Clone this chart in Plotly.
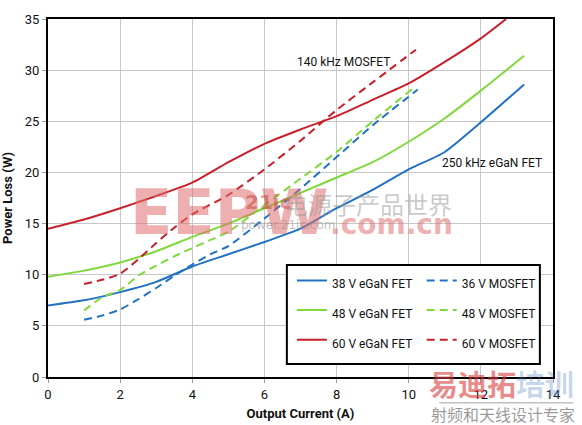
import plotly.graph_objects as go

# 38 V eGaN FET (solid blue) / 36 V MOSFET (dashed blue)
x_38_egan = [0, 1, 2, 3, 4, 5, 6, 7, 8, 9, 10, 11, 12, 13.2]
y_38_egan = [7.0, 7.5, 8.3, 9.3, 10.8, 12.0, 13.2, 14.5, 16.5, 18.3, 20.3, 22.0, 24.9, 28.6]
x_36_mos = [1, 1.5, 2, 2.5, 3, 3.5, 4, 4.5, 5, 6, 7, 8, 9, 10.25]
y_36_mos = [5.6, 6.0, 6.6, 7.6, 8.7, 9.9, 11.0, 12.0, 12.8, 15.5, 18.4, 21.5, 24.6, 28.1]

# 48 V
x_48_egan = [0, 1, 2, 3, 4, 5, 6, 7, 8, 9, 10, 11, 12, 13.2]
y_48_egan = [9.8, 10.4, 11.2, 12.3, 13.7, 15.0, 16.5, 18.0, 19.5, 21.0, 23.0, 25.3, 28.0, 31.4]
x_48_mos = [1, 1.5, 2, 2.5, 3, 3.5, 4, 4.5, 5, 6, 7, 8, 9, 10.15]
y_48_mos = [6.5, 7.8, 8.5, 9.9, 10.9, 11.8, 12.6, 13.4, 14.2, 16.8, 19.4, 22.0, 25.0, 28.3]

# 60 V
x_60_egan = [0, 1, 2, 3, 4, 5, 6, 7, 8, 9, 10, 11, 12, 12.7]
y_60_egan = [14.5, 15.4, 16.5, 17.7, 19.0, 21.0, 22.8, 24.2, 25.5, 27.1, 28.7, 30.8, 33.1, 35.0]
x_60_mos = [1, 1.5, 2, 2.5, 3, 3.5, 4, 5, 6, 7, 8, 9, 10.2]
y_60_mos = [9.1, 9.5, 10.1, 11.5, 13.1, 14.6, 15.9, 17.8, 20.3, 23.1, 26.1, 28.8, 32.0]

x_ticks = [0, 2, 4, 6, 8, 10, 12, 14]
y_ticks = [0, 5, 10, 15, 20, 25, 30, 35]

BLUE = '#2272c3'
GREEN = '#80d83c'
RED = '#c8202a'
FONT = 'Roboto, sans-serif'
CJK = 'Noto Sans CJK SC'

# (name, x, y, colour, dash, legend column)
series = [
    ('38 V eGaN FET', x_38_egan, y_38_egan, BLUE, 'solid', 'legend'),
    ('36 V MOSFET', x_36_mos, y_36_mos, BLUE, '8px,5px', 'legend2'),
    ('48 V eGaN FET', x_48_egan, y_48_egan, GREEN, 'solid', 'legend'),
    ('48 V MOSFET', x_48_mos, y_48_mos, GREEN, '8px,5px', 'legend2'),
    ('60 V eGaN FET', x_60_egan, y_60_egan, RED, 'solid', 'legend'),
    ('60 V MOSFET', x_60_mos, y_60_mos, RED, '8px,5px', 'legend2'),
]

fig = go.Figure()

# watermarks
wm = [
    (0.36, 0.46, '<b>EEPW</b>', 62, 'rgba(222,110,110,0.55)', 'DejaVu Sans, sans-serif'),
    (0.436, 0.489, '<b>21ic</b>', 20, 'rgba(200,70,60,0.55)', 'DejaVu Sans, sans-serif'),
    (0.634, 0.486, '电源子产品世界', 24, 'rgba(150,150,150,0.5)', CJK),
    (0.475, 0.425, 'power.21ic.com', 12, 'rgba(150,150,150,0.6)', 'DejaVu Sans, sans-serif'),
    (0.68, 0.425, '<b>.com.cn</b>', 28, 'rgba(222,110,110,0.55)', 'DejaVu Sans, sans-serif'),
    (0.899, -0.017, '<b>易迪拓</b><b style="color:rgba(80,125,195,0.55)">培训</b>', 29, 'rgba(215,60,60,0.6)', CJK),
    (0.90, -0.103, '射频和天线设计专家', 16, 'rgba(120,120,120,0.75)', CJK),
]
for x, y, t, s, c, f in wm:
    fig.add_annotation(x=x, y=y, xref='paper', yref='paper', text=t, showarrow=False,
                       xanchor='center', yanchor='middle',
                       font=dict(size=s, color=c, family=f))
fig.add_shape(type='line', xref='paper', yref='paper', x0=0.775, x1=1.04, y0=-0.072, y1=-0.072,
              line=dict(color='rgba(150,150,150,0.6)', width=1.5))

# legend frame around both legend columns
fig.add_shape(type='rect', xref='paper', yref='paper', x0=0.473, x1=0.974, y0=0.036, y1=0.313,
              fillcolor='white', line=dict(color='black', width=2), layer='above')

for name, xs, ys, color, dash, leg in series:
    fig.add_trace(go.Scatter(x=xs, y=ys, name='<span style="font-size:12px">' + name + '</span>',
                             legend=leg, mode='lines',
                             line=dict(color=color, width=2, dash=dash, shape='spline', smoothing=0.6)))

fig.add_annotation(x=8.2, y=30.8, text='140 kHz MOSFET', showarrow=False,
                   xanchor='center', yanchor='middle',
                   font=dict(family=FONT, size=12, color='#111'))
fig.add_annotation(x=12.3, y=20.9, text='250 kHz eGaN FET', showarrow=False,
                   xanchor='center', yanchor='middle',
                   font=dict(family=FONT, size=12, color='#111'))

leg_common = dict(orientation='v', yanchor='top', xanchor='left', y=0.325,
                  bgcolor='rgba(0,0,0,0)', borderwidth=0, font=dict(size=20.5, family=FONT))
fig.update_layout(
    width=582, height=425,
    margin=dict(l=48, r=29, t=19, b=48, autoexpand=False),
    plot_bgcolor='white', paper_bgcolor='white',
    font=dict(family=FONT, size=13, color='#111'),
    showlegend=True,
    legend=dict(x=0.483, **leg_common),
    legend2=dict(x=0.74, **leg_common),
)
fig.update_xaxes(range=[0, 14], tickvals=x_ticks, showgrid=True, gridcolor='#c8c8c8', gridwidth=1,
                 zeroline=False, showline=True, linecolor='black', linewidth=2, mirror=True,
                 ticks='outside', ticklen=4, tickcolor='#999',
                 title=dict(text='<b>Output Current (A)</b>', standoff=8, font=dict(size=13)))
fig.update_yaxes(range=[0, 35], tickvals=y_ticks, showgrid=True, gridcolor='#c8c8c8', gridwidth=1,
                 zeroline=False, showline=True, linecolor='black', linewidth=2, mirror=True,
                 ticks='outside', ticklen=4, tickcolor='#999',
                 title=dict(text='<b>Power Loss (W)</b>', standoff=10, font=dict(size=13)))

fig.write_html("out.html", config={'displayModeBar': False},
               post_script="document.body.style.margin='0';")
